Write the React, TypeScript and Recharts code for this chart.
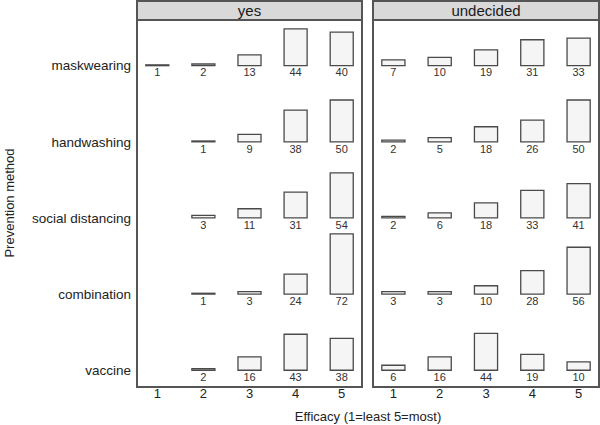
import { ComposedChart, XAxis, YAxis, ReferenceArea } from "recharts"

const methods = ["maskwearing", "handwashing", "social distancing", "combination", "vaccine"]
const efficacy = [1, 2, 3, 4, 5]
const panels = ["yes", "undecided"]

// counts per efficacy level 1..5 (null = no respondents)
const yesMaskwearing = [1, 2, 13, 44, 40]
const yesHandwashing = [null, 1, 9, 38, 50]
const yesSocialDistancing = [null, 3, 11, 31, 54]
const yesCombination = [null, 1, 3, 24, 72]
const yesVaccine = [null, 2, 16, 43, 38]

const undecidedMaskwearing = [7, 10, 19, 31, 33]
const undecidedHandwashing = [2, 5, 18, 26, 50]
const undecidedSocialDistancing = [2, 6, 18, 33, 41]
const undecidedCombination = [3, 3, 10, 28, 56]
const undecidedVaccine = [6, 16, 44, 19, 10]

const yesRows = [yesMaskwearing, yesHandwashing, yesSocialDistancing, yesCombination, yesVaccine]
const undecidedRows = [undecidedMaskwearing, undecidedHandwashing, undecidedSocialDistancing, undecidedCombination, undecidedVaccine]

const COUNTS_PER_ROW = 91
const HALF_WIDTH = 0.25
const FONT = "'Liberation Sans', Arial, Helvetica, sans-serif"

type Cell = { x: number; row: number; count: number }

function buildCells(rows: (number | null)[][]): Cell[] {
  const cells: Cell[] = []
  rows.forEach((vals, i) => {
    const row = methods.length - i
    vals.forEach((v, j) => {
      if (v != null) cells.push({ x: efficacy[j], row, count: v })
    })
  })
  return cells
}

function Panel({ rows, showY, width, left }: { rows: (number | null)[][]; showY: boolean; width: number; left: number }) {
  const cells = buildCells(rows)
  return (
    <div style={{ position: "absolute", left, top: 0 }}>
      <ComposedChart width={width} height={425} data={cells} margin={{ top: 20, right: 0, bottom: 0, left: 0 }}>
        <XAxis
          type="number"
          dataKey="x"
          domain={[0.56, 5.44]}
          ticks={efficacy}
          allowDataOverflow
          axisLine={false}
          tickLine={false}
          tickSize={0}
          tickMargin={2}
          height={38}
          tick={{ fontSize: 13, fill: "#222", fontFamily: FONT }}
        />
        <YAxis
          type="number"
          dataKey="row"
          domain={[0.78, 5.6]}
          ticks={[1, 2, 3, 4, 5]}
          allowDataOverflow
          hide={!showY}
          width={showY ? 137 : 0}
          axisLine={false}
          tickLine={false}
          tickSize={0}
          tickMargin={6}
          tickFormatter={(v: number) => methods[methods.length - v]}
          tick={{ fontSize: 13.5, fill: "#222", fontFamily: FONT }}
        />
        {cells.map((c, i) => (
          <ReferenceArea
            key={i}
            x1={c.x - HALF_WIDTH}
            x2={c.x + HALF_WIDTH}
            y1={c.row}
            y2={c.row + c.count / COUNTS_PER_ROW}
            fill="#f5f5f5"
            fillOpacity={1}
            stroke="#4a4a4a"
            strokeWidth={1.3}
            ifOverflow="visible"
            label={{ value: String(c.count), position: "bottom", offset: 3, fontSize: 11, fill: "#333", fontFamily: FONT }}
          />
        ))}
      </ComposedChart>
    </div>
  )
}

export default function App() {
  const boxes = [
    { left: 136, width: 227 },
    { left: 372, width: 228 },
  ]
  return (
    <div style={{ position: "absolute", left: 0, top: 0, width: 600, height: 425, background: "#fff", fontFamily: FONT, overflow: "hidden" }}>
      <Panel rows={yesRows} showY width={362} left={0} />
      <Panel rows={undecidedRows} showY={false} width={226} left={373} />
      {boxes.map((b, i) => (
        <div key={i}>
          <div
            style={{
              position: "absolute", left: b.left, top: 0, width: b.width, height: 21, boxSizing: "border-box",
              background: "#d9d9d9", border: "2px solid #555", fontSize: 15, color: "#1a1a1a",
              textAlign: "center", lineHeight: "17px",
            }}
          >
            {panels[i]}
          </div>
          <div
            style={{
              position: "absolute", left: b.left, top: 19, width: b.width, height: 369, boxSizing: "border-box",
              border: "2px solid #555", pointerEvents: "none",
            }}
          />
        </div>
      ))}
      <div style={{ position: "absolute", left: 137, width: 462, top: 409, textAlign: "center", fontSize: 13, color: "#222" }}>
        Efficacy (1=least 5=most)
      </div>
      <div
        style={{
          position: "absolute", left: 9, top: 203, transform: "translate(-50%, -50%) rotate(-90deg)",
          whiteSpace: "nowrap", fontSize: 13, color: "#222",
        }}
      >
        Prevention method
      </div>
    </div>
  )
}
